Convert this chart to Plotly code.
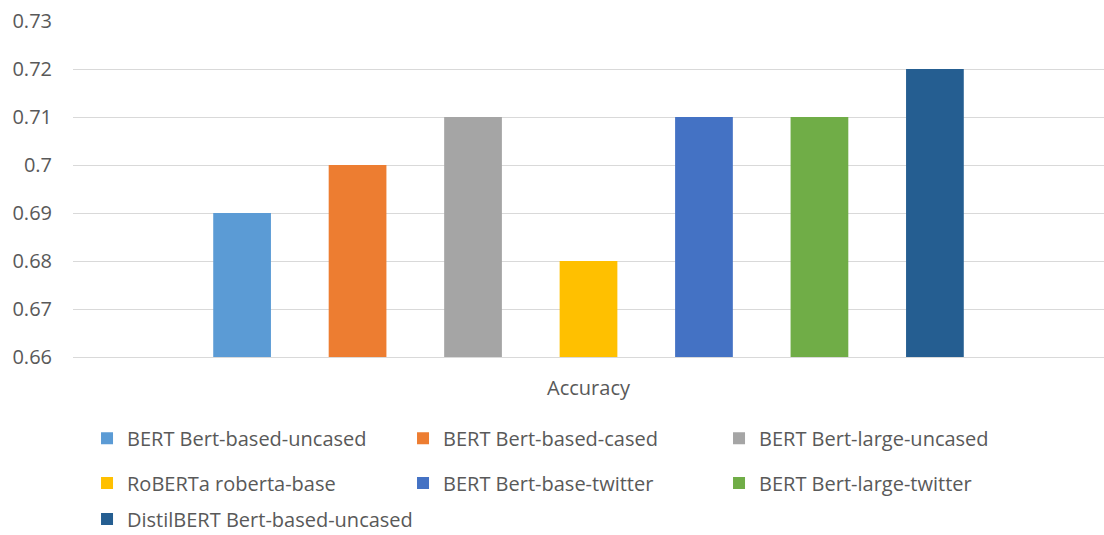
import plotly.graph_objects as go

category = ["Accuracy"]
models = [
    "BERT Bert-based-uncased",
    "BERT Bert-based-cased",
    "BERT Bert-large-uncased",
    "RoBERTa roberta-base",
    "BERT Bert-base-twitter",
    "BERT Bert-large-twitter",
    "DistilBERT Bert-based-uncased",
]
accuracy = [0.69, 0.70, 0.71, 0.68, 0.71, 0.71, 0.72]
colors = ["#5B9BD5", "#ED7D31", "#A5A5A5", "#FFC000", "#4472C4", "#70AD47", "#255E91"]
legend_ids = ["legend", "legend", "legend", "legend2", "legend2", "legend2", "legend3"]

FONT = "Open Sans, Noto Sans, sans-serif"
TXT = "#595959"
FS = 20

fig = go.Figure()
for name, val, col, lg in zip(models, accuracy, colors, legend_ids):
    fig.add_trace(go.Bar(
        x=category, y=[val], name=name,
        marker=dict(color=col, line=dict(width=0)),
        legend=lg,
    ))

leg_common = dict(
    orientation="h", x=0.0136, xanchor="left", yanchor="middle",
    yref="container",
    font=dict(family=FONT, size=FS, color=TXT),
    bgcolor="rgba(0,0,0,0)", itemclick=False, itemdoubleclick=False,
)

fig.update_layout(
    width=1104, height=535,
    margin=dict(l=73, r=0, t=21, b=178, autoexpand=False),
    paper_bgcolor="white", plot_bgcolor="white",
    barmode="group", bargap=0.216, bargroupgap=0.5,
    font=dict(family=FONT, size=FS, color=TXT),
    showlegend=True,
    legend=dict(leg_common, y=0.181, entrywidth=271, entrywidthmode="pixels"),
    legend2=dict(leg_common, y=0.097, entrywidth=271, entrywidthmode="pixels"),
    legend3=dict(leg_common, y=0.03),
    xaxis=dict(
        showgrid=False, showline=True, linecolor="#D9D9D9", linewidth=1,
        ticks="", automargin=False, ticklabelstandoff=13,
        tickfont=dict(family=FONT, size=FS, color=TXT),
    ),
    yaxis=dict(
        range=[0.66, 0.73], dtick=0.01, tick0=0.66,
        showgrid=True, gridcolor="#D9D9D9", gridwidth=1,
        zeroline=False, showline=False, ticks="", automargin=False,
        ticklabelstandoff=20,
        tickfont=dict(family=FONT, size=FS, color=TXT),
    ),
)

fig.write_html("out.html")
